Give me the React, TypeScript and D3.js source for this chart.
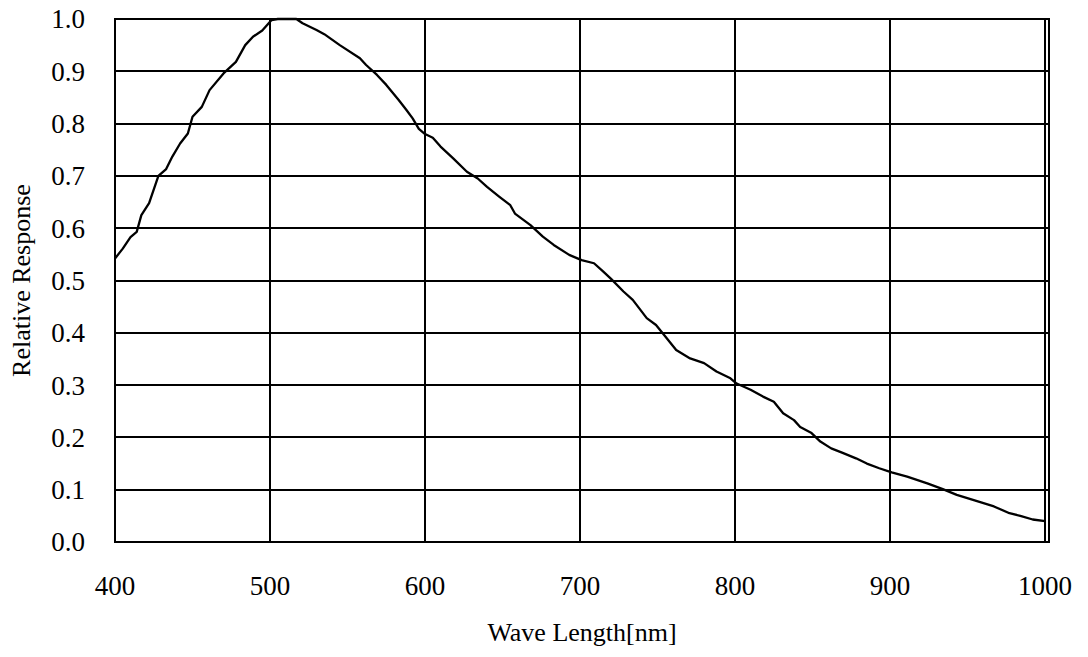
import { useEffect, useRef } from "react";
import * as d3 from "d3";

// wavelength [nm] and relative response
const waveLength = [
  400, 405, 410, 414, 417, 422, 428, 433, 437, 442, 447, 450, 456, 461, 470, 478, 484, 489, 495, 501,
  505, 517, 521, 530, 535, 545, 558, 562, 569, 575, 583, 588, 592, 596, 600, 605, 610, 618, 627, 634,
  640, 648, 655, 658, 668, 676, 683, 693, 701, 709, 715, 720, 728, 734, 743, 749, 755, 762, 771, 780,
  788, 797, 801, 810, 818, 825, 831, 838, 842, 849, 855, 862, 869, 878, 885, 893, 901, 911, 924, 934,
  943, 954, 967, 977, 984, 992, 1000,
];
const response = [
  0.542, 0.561, 0.583, 0.593, 0.625, 0.648, 0.7, 0.713, 0.737, 0.762, 0.781, 0.813, 0.832, 0.864, 0.896, 0.918, 0.95, 0.966, 0.978, 0.998,
  1.0, 1.0, 0.992, 0.979, 0.971, 0.95, 0.925, 0.912, 0.893, 0.874, 0.845, 0.826, 0.81, 0.79, 0.78, 0.773, 0.756, 0.734, 0.708, 0.695,
  0.679, 0.66, 0.644, 0.628, 0.606, 0.584, 0.568, 0.549, 0.539, 0.533, 0.517, 0.503, 0.479, 0.463, 0.428, 0.415, 0.393, 0.367, 0.351, 0.342,
  0.326, 0.313, 0.303, 0.291, 0.278, 0.268, 0.246, 0.233, 0.22, 0.209, 0.192, 0.179, 0.171, 0.16, 0.15, 0.141, 0.133, 0.125, 0.112, 0.101,
  0.09, 0.08, 0.068, 0.055, 0.05, 0.043, 0.04,
];
const xTicks = [400, 500, 600, 700, 800, 900, 1000];
const yTicks = [0, 0.1, 0.2, 0.3, 0.4, 0.5, 0.6, 0.7, 0.8, 0.9, 1.0];

const W = 1088;
const H = 657;
const font = "'Liberation Serif', 'Times New Roman', serif";

export default function App() {
  const svgRef = useRef<SVGSVGElement | null>(null);

  useEffect(() => {
    const svg = d3.select(svgRef.current);
    svg.selectAll("*").remove();

    const left = 115, right = 1049, top = 19, bottom = 542;
    const x = d3.scaleLinear().domain([400, 1002.5]).range([left, right]);
    const y = d3.scaleLinear().domain([0, 1]).range([bottom, top]);

    svg.append("rect").attr("width", W).attr("height", H).attr("fill", "#fff");

    // grid lines snapped to whole pixels so the 2px lines stay crisp
    const grid = svg.append("g").attr("stroke", "#000").attr("stroke-width", 2);
    grid.selectAll("line.h")
      .data(yTicks)
      .join("line")
      .attr("class", "h")
      .attr("x1", left).attr("x2", right)
      .attr("y1", d => Math.round(y(d))).attr("y2", d => Math.round(y(d)));
    grid.selectAll("line.v")
      .data(xTicks)
      .join("line")
      .attr("class", "v")
      .attr("y1", top).attr("y2", bottom)
      .attr("x1", d => Math.round(x(d))).attr("x2", d => Math.round(x(d)));
    grid.append("rect")
      .attr("x", left).attr("y", top)
      .attr("width", right - left).attr("height", bottom - top)
      .attr("fill", "none");

    const pts = waveLength.map((w, i) => [w, response[i]] as [number, number]);
    const line = d3.line<[number, number]>().x(d => x(d[0])).y(d => y(d[1]));
    svg.append("path")
      .datum(pts)
      .attr("fill", "none")
      .attr("stroke", "#000")
      .attr("stroke-width", 2.3)
      .attr("stroke-linejoin", "round")
      .attr("d", line);

    svg.append("g")
      .selectAll("text")
      .data(yTicks)
      .join("text")
      .attr("x", 85)
      .attr("y", d => y(d))
      .attr("dy", "0.35em")
      .attr("text-anchor", "end")
      .attr("font-family", font)
      .attr("font-size", 27)
      .text(d => d.toFixed(1));

    svg.append("g")
      .selectAll("text")
      .data(xTicks)
      .join("text")
      .attr("x", d => x(d))
      .attr("y", 595)
      .attr("text-anchor", "middle")
      .attr("font-family", font)
      .attr("font-size", 27)
      .text(d => d);

    svg.append("text")
      .attr("x", (left + right) / 2)
      .attr("y", 641)
      .attr("text-anchor", "middle")
      .attr("font-family", font)
      .attr("font-size", 26)
      .text("Wave Length[nm]");

    svg.append("text")
      .attr("transform", `translate(30,${(top + bottom) / 2}) rotate(-90)`)
      .attr("text-anchor", "middle")
      .attr("font-family", font)
      .attr("font-size", 26)
      .text("Relative Response");
  }, []);

  return (
    <svg
      ref={svgRef}
      width={W}
      height={H}
      style={{ position: "absolute", left: 0, top: 0 }}
    />
  );
}
